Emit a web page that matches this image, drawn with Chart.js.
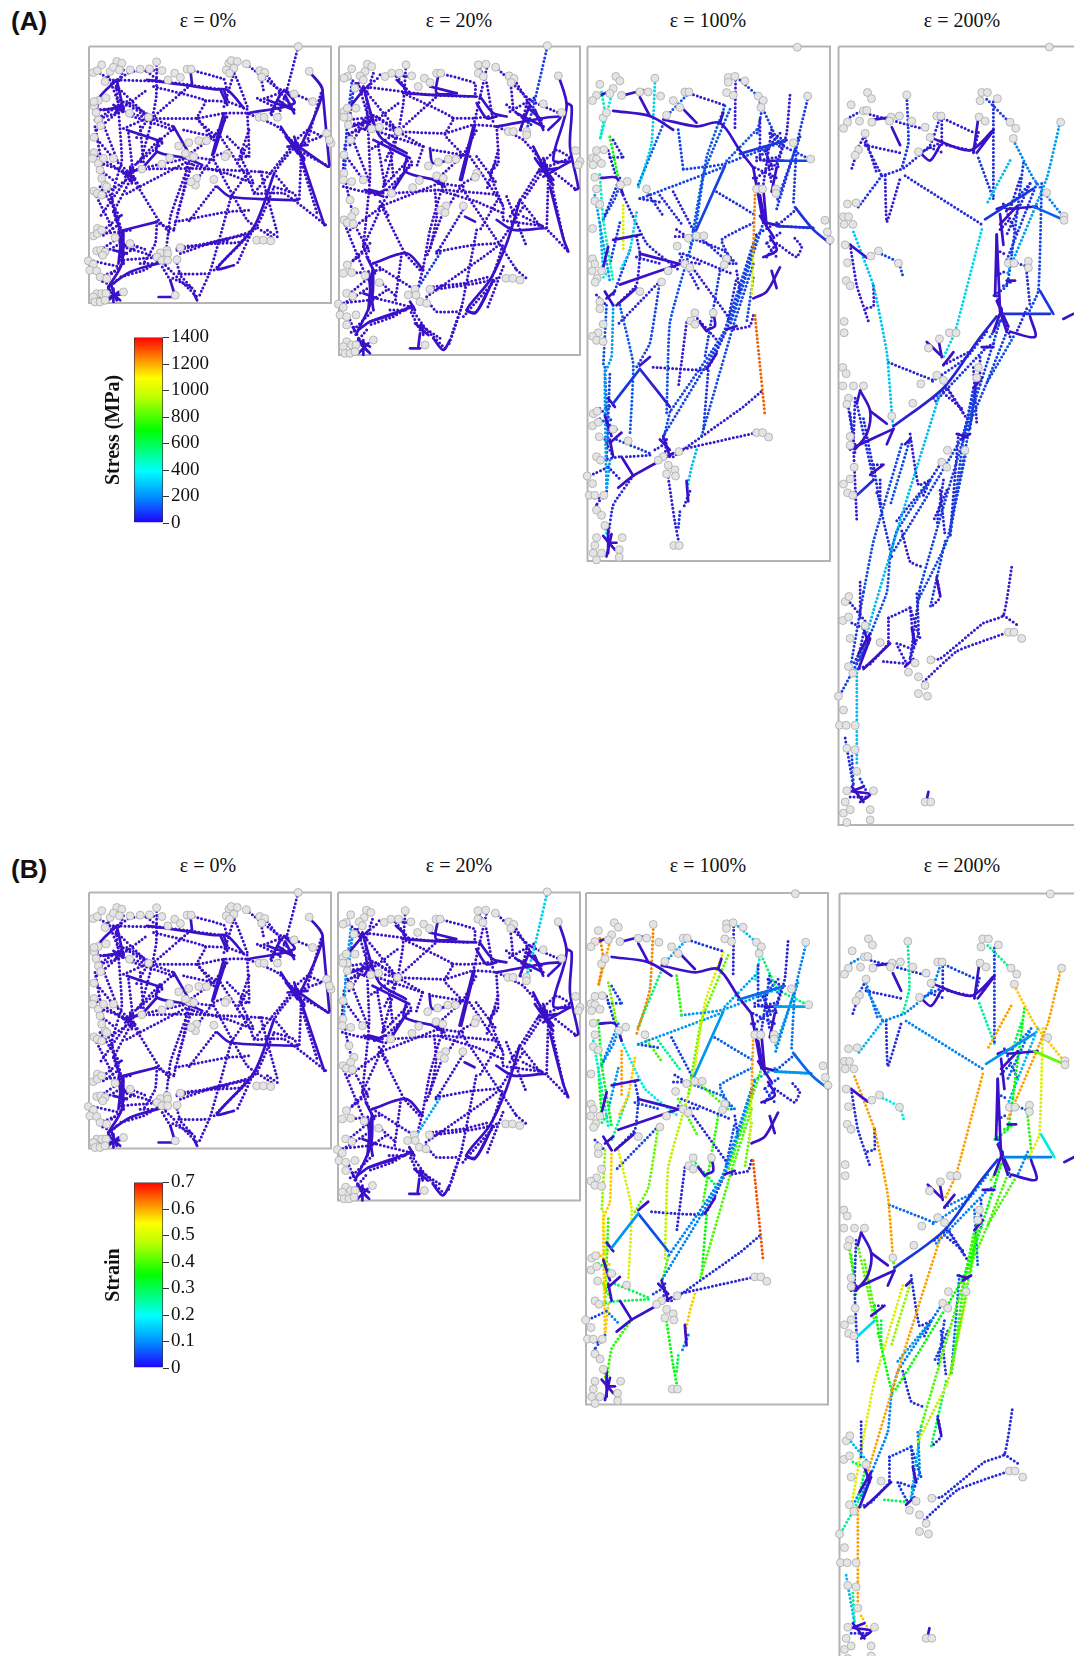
<!DOCTYPE html>
<html>
<head>
<meta charset="utf-8">
<title>Fibre network under strain</title>
<script src="https://cdn.jsdelivr.net/npm/chart.js@4"></script>
<style>
  html, body { margin: 0; padding: 0; background: #fff; }
  body { position: relative; width: 1074px; height: 1656px; overflow: hidden; }
  canvas { position: absolute; }
  .tag { position: absolute; font: bold 26px "Liberation Sans", sans-serif; color: #111; }
  .eps { position: absolute; width: 120px; text-align: center; font: 20px "Liberation Serif", serif; color: #111; }
</style>
</head>
<body>
<script>
// strain steps and colour bar ticks
const strainLevels = ['ε = 0%', 'ε = 20%', 'ε = 100%', 'ε = 200%'];
const stressTicks = [0, 200, 400, 600, 800, 1000, 1200, 1400];
const strainTicks = [0, 0.1, 0.2, 0.3, 0.4, 0.5, 0.6, 0.7];

const fibres1 = [
  [652,50,618,180,592,262],[330,120,430,148,438,175],[100,150,250,155,420,178],[100,160,205,262],
  [120,210,205,262,280,290],[229,96,228,200,215,270,180,400],[330,165,218,262],[220,170,375,212,350,265,410,322],
  [375,212,440,215,500,238],[205,265,350,265,430,250,500,250,590,290,640,340],[60,265,130,245,205,265],[60,240,140,235],
  [45,290,65,400,75,470],[50,300,120,240],[110,180,125,390,95,500,130,620],[45,320,100,385,150,430],
  [145,310,160,440],[180,290,190,400],[65,270,115,400],[150,420,240,325],[50,395,150,430],[42,372,120,420],
  [60,420,100,450],[155,440,235,570,270,610],[160,420,320,385],[185,417,330,415,540,425,580,430],[140,490,330,390],
  [330,390,290,500,270,560,255,680],[320,400,310,480,280,600],[340,380,290,555],[300,650,400,640,480,635,520,590],
  [290,660,520,600,580,470],[285,575,440,545,505,540],[230,575,225,640,190,700],[290,655,450,630],[300,670,400,635,490,615],
  [345,455,400,380,440,365],[405,470,320,580],[450,505,390,720,355,800],[400,390,500,570,580,625],
  [420,320,510,460,520,490,610,490,735,585],[500,250,505,380,480,380,520,460],[480,380,500,345],[640,340,520,490],
  [660,400,655,510],[660,390,710,555],[650,360,745,410],[580,430,630,490],[540,425,590,610],[445,100,470,150,500,230],
  [470,95,430,230],[497,102,590,175,640,192,695,215],[537,122,550,190],[552,128,640,240],[540,210,620,180],[530,205,600,240],
  [595,200,570,260],[720,190,680,330],[350,265,400,330],[150,430,60,560],[70,600,130,550],[70,615,120,580],
  [130,650,230,680],[150,640,200,660],[120,690,240,680],[30,690,120,710],[60,740,110,720],[290,700,300,730,390,730],
  [240,690,350,800],[295,730,350,790],[90,495,120,610],[100,545,125,610],[280,600,225,575],
  [85,140,120,230],[130,120,105,180],[60,130,105,160],[105,155,150,125],[150,125,240,120],[200,125,240,155],
  [95,240,45,270],[120,235,45,240],[120,240,200,180],[140,215,205,255],[205,262,120,300],[205,262,165,330],[145,255,280,300],
  [280,295,240,330],[245,340,170,400],[310,300,400,320],[400,320,330,370],[400,320,440,260],[150,430,180,470],[155,440,60,500],
  [60,470,120,560],[45,490,100,600],[100,545,150,450],[330,380,400,390],[340,405,440,430],[440,430,520,460],[505,300,470,400],
  [440,320,500,380],[500,430,450,500],[580,470,640,490,650,510],[635,340,680,300,725,320],[640,350,720,320],[650,340,600,400,580,430],
  [120,620,60,660],[120,640,50,680],[120,680,170,650],[150,600,70,610],[130,700,60,760],[110,750,60,800],[90,780,70,740],
  [240,690,190,720,120,740],[180,700,235,700],[270,750,240,700],[330,770,270,740],[520,590,470,700],[500,620,400,720],[560,600,590,620]
];
const dense1 = [
  [110,150,60,200,50,240],[70,240,130,230],[110,150,130,240],[230,575,130,600],[130,600,125,700,85,770],
  [85,770,150,725,250,695],[140,300,245,335],[235,330,230,365,320,385,365,405],[230,365,190,410],[280,290,320,360],
  [330,120,335,165],[200,150,240,155,400,178,440,180,490,235],[420,180,440,225],[430,250,395,375],[435,260,400,370],
  [500,250,640,220,610,180],[600,290,650,370],[640,340,740,410],[685,124,725,185,655,360],[725,185,745,405],
  [660,375,730,585],[580,430,520,590,410,715,460,705],[410,470,450,500,650,510],[235,800,285,800],[270,750,285,800],
  [95,770,110,810],[85,800,130,790],[630,330,670,385],[620,350,680,345],[590,210,635,240],[110,620,140,650],
  [130,430,170,420],[150,410,155,460],[340,790,350,810],
  [560,210,640,240],[600,190,570,250],[615,200,640,250],[615,320,670,390],[640,320,660,380],[100,225,130,245],[105,250,125,220],
  [115,610,130,700],[125,610,115,700],[100,660,140,670],[85,780,120,810],[85,810,115,785],[100,775,100,815],[125,425,165,445],
  [135,440,165,420],[310,375,345,395],[430,180,440,210],[240,680,255,700]
];
const nodes1 = [
  652,50,685,124,40,128,52,122,65,105,90,125,110,95,125,100,100,112,118,120,75,155,150,120,180,118,208,117,229,96,245,122,
  283,130,300,143,320,118,332,118,263,150,445,100,452,92,470,95,497,102,437,120,460,115,447,130,537,122,552,128,543,142,
  640,192,695,215,737,310,750,340,745,330,42,228,55,212,42,215,78,204,48,248,55,270,62,287,148,250,205,262,535,262,550,262,
  590,262,355,332,378,332,42,322,295,348,325,338,42,368,38,385,55,400,70,385,100,385,327,378,340,380,315,370,268,384,
  245,402,440,372,434,380,185,417,60,420,65,445,75,465,42,483,52,490,65,495,80,470,348,445,345,465,332,455,400,448,
  52,595,40,617,52,610,65,600,105,622,150,640,528,630,548,630,570,632,300,652,260,660,240,668,230,680,262,670,245,690,
  262,690,290,688,50,662,62,660,75,665,68,675,25,692,40,702,30,720,50,722,60,740,80,745,130,785,50,790,40,800,65,790,
  78,790,45,815,60,815,75,810,285,795
];

const fibres2 = [
  [652,50,610,230,590,300],[65,160,50,300,45,420],[70,180,60,260],[330,670,260,780],
  [330,130,435,160,435,200],[100,170,300,195,420,200],[100,175,205,305],[120,250,205,305,280,350],
  [228,106,220,220,205,305,160,470],[325,195,210,300],[220,190,370,265,345,315,400,375],[370,265,430,265,520,255],
  [205,305,345,310,430,285,500,290,580,330,640,400],[55,310,130,290,205,305],[60,270,130,260],[45,345,40,420,70,560],
  [60,345,110,270],[110,210,120,440,100,650],[45,375,100,450],[145,350,165,470],[180,345,190,440],[65,320,120,460],
  [160,470,240,385],[40,470,120,490],[150,530,245,395],[155,530,225,670,270,720],[150,530,340,455],[185,490,340,480,510,495],
  [340,460,300,600,280,710,260,790],[315,480,320,560,300,660],[345,530,290,680],[300,780,480,750,520,640],
  [290,800,500,650,580,530],[320,665,430,645,500,640],[215,670,195,820],[310,770,400,760,480,740],[345,545,400,460,440,440],
  [405,530,320,670],[440,600,395,830,365,920],[400,480,520,660,560,720],[420,380,520,530,520,570,640,590,715,665],
  [500,290,505,400,480,430,520,530],[480,430,500,390],[640,400,540,560],[655,440,650,600],[660,440,700,625],[650,410,740,480],
  [570,510,640,600],[530,500,590,650],[445,105,470,160,490,280],[470,115,430,290],[497,110,600,210,690,250],[540,140,550,240],
  [560,160,640,290],[540,245,620,200],[530,225,610,290],[590,220,570,310],[130,700,240,770],[150,755,200,800],[120,800,240,830],
  [30,820,120,810],[60,870,80,920],[290,810,320,845,390,845],[240,830,290,900,350,960],[395,830,370,900,355,950],
  [60,700,120,650],[70,690,120,640],[100,650,130,720],
  [85,160,120,280],[130,130,105,205],[60,145,105,185],[105,175,150,140],[150,135,245,140],[200,140,240,190],
  [95,285,45,325],[120,275,45,285],[120,285,205,220],[140,260,205,300],[205,305,120,360],[205,305,165,395],[145,305,280,350],
  [280,350,260,410],[245,405,170,480],[310,360,400,375],[400,375,330,440],[400,375,440,300],[150,515,180,565],[155,530,60,600],
  [60,560,120,670],[45,585,100,720],[100,650,150,540],[330,460,400,470],[340,485,440,515],[440,515,520,550],[505,360,470,480],
  [440,380,500,460],[500,515,450,600],[580,560,640,590],[635,400,680,360,725,385],[640,415,720,385],[650,405,600,480,580,510],
  [120,740,60,790],[120,770,50,815],[120,815,170,780],[150,720,70,730],[130,840,60,910],[110,900,60,960],[90,935,70,890],
  [240,830,190,860,120,885],[180,840,235,840],[270,900,240,840],[330,925,270,885],[520,710,470,840],[500,745,400,860],[560,720,590,745]
];
const dense2 = [
  [105,175,60,230],[65,290,130,270],[105,190,150,320,230,370],[130,330,240,385],[230,385,225,425,340,455],[225,425,190,480],
  [130,700,230,670,280,720],[130,720,125,810,80,910],[85,900,120,875,250,830],[120,875,200,850],[325,135,320,190,380,190],
  [300,170,380,190],[200,150,225,175,230,190,440,200],[450,200,490,250,530,260],[440,220,470,265,500,260],[430,290,390,450],
  [435,285,395,450],[500,290,690,260,655,300],[610,350,655,440],[685,135,710,230,670,390,720,395],[710,220,725,230,720,350,745,475,735,480],
  [660,470,700,625,715,665],[640,440,720,395],[570,510,530,640,480,750,410,840,440,845,490,750],[410,840,435,850,470,790],
  [300,355,310,400,400,375],[405,560,435,575],[500,570,550,600,640,595],[240,955,270,955],[270,910,265,950],[310,925,340,960,360,930],
  [630,400,670,450],[625,425,680,415],[590,230,635,270],[110,680,135,730],[120,480,160,490],[95,945,115,965],[85,930,120,950],
  [560,250,640,290],[600,225,570,300],[615,240,640,300],[615,385,670,465],[640,385,660,455],[100,270,130,295],[105,300,125,265],
  [115,730,130,840],[125,730,115,840],[100,790,140,805],[85,935,120,970],[85,970,115,940],[100,930,100,975],[105,480,160,500],
  [135,495,165,480],[310,450,345,470],[240,815,255,840],[255,880,295,915],[275,885,280,915]
];
const nodes2 = [
  652,48,685,138,112,103,125,110,65,117,105,125,90,138,52,140,42,145,75,175,100,150,185,130,165,140,208,130,228,105,245,138,
  283,145,300,158,320,130,332,130,265,170,445,105,468,103,497,112,445,130,460,140,537,138,552,146,543,158,640,222,695,248,
  78,235,42,245,52,235,55,262,42,262,148,292,125,297,205,305,55,285,62,330,42,375,535,305,550,305,590,305,590,315,737,362,
  750,395,745,405,355,388,378,388,295,408,325,397,42,430,40,450,65,455,100,450,320,438,340,445,268,452,248,473,440,430,
  436,442,185,490,60,510,75,545,65,560,42,570,52,578,70,582,348,528,332,540,345,548,400,528,52,705,40,730,65,728,105,737,
  148,758,528,745,548,745,570,750,300,778,255,778,235,795,258,795,270,815,290,820,50,790,68,798,25,822,40,832,30,855,50,860,
  78,855,50,885,130,930,50,935,40,950,65,945,78,945,45,970,60,970,75,965,285,945
];

const fibres3 = [
  [480,145,550,205],[467,135,465,290],[630,190,620,300,590,400],[685,192,650,330,590,520],[225,155,215,330,175,460],
  [330,185,440,220],[320,190,260,250],[260,250,175,450],[295,290,310,405],[310,405,430,390,620,320],
  [435,220,380,370,345,590],[450,230,370,420,330,640],[540,210,600,330,690,375],[530,290,440,380],[180,490,440,395],
  [65,180,75,240,60,320],[95,190,60,320],[90,310,115,430],[130,510,130,640],[170,530,150,640,120,700],
  [60,420,70,550,100,730],[100,800,95,950,75,1000,80,1340],[120,800,160,970,150,1180],[120,460,200,620,300,700],[240,480,310,570],
  [280,470,345,590],[525,480,520,640],[520,640,515,770],[525,830,555,1120],[345,590,270,850,260,1120],
  [240,730,210,910,170,980],[300,650,360,760],[310,650,460,710],[520,560,425,610,460,680],[550,560,450,860],
  [520,620,430,880,270,1110],[530,600,440,870,250,1180],[520,680,460,860,365,1180],[420,700,375,950],[370,610,450,680],
  [240,730,110,860],[650,330,640,510],[600,570,690,575],[650,520,590,570],[575,290,550,450],
  [320,850,295,1040],[220,980,380,985,440,870],[270,1110,250,1190],[110,1190,210,1230],[280,1240,490,1095,550,1045],
  [300,1220,530,1170],[350,1220,335,1270,320,1340],[265,1300,285,1430,295,1480],[160,1295,100,1380,85,1470],[345,700,450,840],
  [345,830,410,900],[520,830,510,860,460,870],[590,620,650,660,665,630,640,600],[560,620,590,660],[290,580,320,600,280,600],
  [300,670,365,680],[180,490,240,500],[70,550,105,490,120,450],[30,1295,85,1270],[90,1250,80,1340],
  [170,600,180,650,170,740,110,800],[540,260,540,370],[570,300,610,320,590,390],[530,380,590,370],[550,340,580,410],
  [530,370,600,400],[560,350,575,450],[600,300,540,370],[525,400,590,430],[530,430,580,390],
  [570,300,600,340],[520,430,560,470],[550,210,530,310],[660,310,590,500],[410,470,530,540],
  [200,470,250,540],[150,640,100,770],[120,560,90,680],[45,480,90,730],[60,560,70,700],
  [120,430,70,550],[100,320,130,370],[90,370,130,370],[85,350,110,430],[80,800,70,980],
  [75,980,85,1200],[90,1000,80,1250],[50,770,80,800],[85,700,70,720],[100,1090,70,1100],
  [60,1100,100,1140],[60,1130,110,1160],[75,1190,100,1240],[60,1250,120,1240],[140,1240,215,1235],
  [85,1270,125,1310],[80,1340,50,1380],[50,1380,70,1420],[45,1360,80,1360],[75,1440,85,1480],
  [260,1190,255,1240],[225,1220,260,1200],[330,1340,310,1390],[300,1400,295,1450],[600,590,560,620],
  [590,560,520,600],[560,660,590,620],[520,720,500,850],[445,840,470,720],[470,700,480,760],
  [350,610,430,640,470,680],[385,990,370,1170],[170,660,245,680]
];
const stress3 = [
  90,20,20,80,350, 30,130,130,100,100,
  130,130,90,130,100, 450,400,700,1000,350,
  450,250,130,50,60, 40,1200,1000,1250,120,
  100,60,30,60,110, 100,100,110,90,40,
  40,90,80,30,30, 20,15,110,90,30,
  20,300,30,60,20, 20,20,20,30,20,
  20,40,100,30,250, 30,30,20,30,30,
  20,20,30,20,20, 50,30,90,70,60,
  60,90,90,250,300, 70,40,30,30,120,
  150,100,20,400,60, 60,80,70,60,40,
  40,30,20,30,300, 30,30,30,70,30,
  60,30,110,50,25, 60,70,40
];
const strain3 = [
  0.15,0.02,0.02,0.1,0.6, 0.04,0.13,0.28,0.38,0.12,
  0.5,0.42,0.27,0.13,0.12, 0.6,0.58,0.42,0.58,0.55,
  0.33,0.55,0.5,0.2,0.25, 0.05,0.58,0.5,0.64,0.48,
  0.42,0.4,0.03,0.08,0.38, 0.1,0.1,0.4,0.38,0.4,
  0.05,0.09,0.12,0.05,0.03, 0.02,0.02,0.4,0.3,0.03,
  0.02,0.55,0.35,0.38,0.02, 0.3,0.02,0.02,0.03,0.03,
  0.03,0.05,0.1,0.05,0.55, 0.04,0.03,0.02,0.03,0.03,
  0.03,0.03,0.06,0.03,0.03, 0.1,0.04,0.2,0.13,0.07,
  0.4,0.25,0.12,0.22,0.35, 0.1,0.05,0.04,0.04,0.45,
  0.5,0.38,0.03,0.3,0.5, 0.55,0.3,0.4,0.28,0.3,
  0.1,0.06,0.03,0.05,0.4, 0.04,0.05,0.1,0.3,0.05,
  0.12,0.04,0.42,0.06,0.03, 0.08,0.35,0.06
];
const dense3 = [
  [435,395,345,590],[180,985,100,1085],[480,360,620,320],[590,380,690,380],[645,515,700,580,750,620],
  [590,570,700,575],[180,985,270,1095],[130,190,190,175],[60,190,100,175],[180,195,210,250],
  [100,235,210,250,280,290],[250,260,350,280,420,270,480,350,520,400],[310,230,350,270],[420,270,430,240],[520,400,550,560],
  [300,680,180,650],[120,740,300,680],[65,430,110,430,130,480],[100,610,180,595],[70,690,85,630],
  [110,800,170,750],[590,400,575,470],[600,690,560,760,520,780],[575,700,590,750],[400,820,405,860,385,870],
  [360,850,380,875],[115,1330,160,1295],[125,1240,160,1295],[160,1295,280,1230],[90,1200,125,1170],
  [85,1440,85,1520],[85,1490,110,1490],[70,1470,105,1510],[95,1465,80,1530],[320,1310,325,1370],
  [560,380,610,380],[550,460,560,570],[570,600,590,640,550,660],[250,1180,270,1240],[80,780,105,760],
  [410,940,380,985],[180,975,210,950],[440,870,470,860],
  [540,480,555,560],[560,560,600,570],[540,540,580,600],[75,760,100,800],[85,1070,105,1095],[75,1120,95,1180],[90,1190,100,1240],[240,1190,270,1220]
];
const denseStress3 = [100, 80, 80, 100, 70, 70, 30];
const denseStrain3 = [0.12, 0.12, 0.08, 0.13, 0.08, 0.12, 0.06];
const nodes3 = [
  652,50,683,192,108,135,120,148,60,158,100,170,90,185,50,190,38,205,125,190,180,180,205,180,225,140,242,192,280,205,315,180,
  327,180,300,225,260,248,445,138,465,135,495,148,445,152,440,182,460,190,535,192,550,205,543,225,70,255,80,240,640,328,692,375,
  50,350,72,348,38,372,50,375,40,392,65,388,142,440,122,450,200,462,45,428,50,462,45,497,60,507,530,462,548,462,588,462,588,475,
  735,553,742,587,750,610,38,577,350,598,372,598,325,605,292,628,38,665,45,680,37,700,65,700,52,722,46,733,315,680,330,690,
  265,700,245,732,440,665,433,682,180,760,60,790,60,810,70,855,55,880,38,890,50,902,70,905,345,822,332,845,400,822,345,855,
  40,1115,52,1108,38,1150,55,1140,100,1160,58,1182,145,1194,530,1170,548,1170,566,1183,297,1225,250,1240,235,1250,265,1265,
  285,1278,260,1290,287,1296,50,1240,62,1250,22,1296,38,1318,28,1352,45,1352,72,1352,50,1395,65,1410,75,1440,50,1475,127,1475,
  45,1498,40,1520,65,1520,118,1510,118,1532,50,1540,282,1498,298,1498
];

const fibres4 = [
  [470,135,545,185],[230,130,235,220,215,270],[330,170,430,200],[335,170,335,225],[120,165,290,195],
  [155,285,220,270,300,225,330,170],[155,285,80,350],[105,220,155,285],[165,285,170,375,210,290],[225,285,455,380],
  [455,390,375,590,340,640],[330,710,205,970,110,1180],[540,255,470,340],[690,180,650,290,530,480],[490,140,490,330],
  [445,250,490,330],[550,215,610,290,700,365],[635,300,625,510,590,560],[70,395,130,500,170,630,185,750],[175,650,310,685],
  [60,420,80,500,115,570],[130,500,130,540,100,545],[145,435,205,455,220,485],[340,655,415,630],[590,475,600,540],
  [540,450,600,465],[470,620,310,730],[510,570,400,790,190,1020],[530,590,470,690,400,800,270,1090],[440,700,360,980],
  [430,700,400,800,360,990],[410,820,350,1000,260,1120],[300,880,200,980,180,1030,170,1100,90,1230],[130,850,150,930,185,1030],[215,810,130,1000,100,1100],
  [240,800,180,930],[240,790,265,890,300,880],[215,980,240,1040,275,1050],[270,1090,240,1230],[320,1070,330,1110,300,1130],
  [345,1000,300,1130],[75,720,70,810,80,960],[60,1120,110,1160],[90,1080,90,1150],[30,1300,120,1190],
  [175,1150,175,1200],[175,1150,240,1130],[240,1130,250,1210,200,1200,230,1240],[160,1235,240,1240],[300,1230,330,1230,460,1160,520,1145,545,1050],
  [280,1275,380,1215,525,1180],[520,1145,565,1165],[80,1250,80,1440],[65,1420,70,1480],[45,1385,70,1480],
  [90,1465,110,1490],[105,225,210,240],[65,270,80,240],[60,170,100,155],[545,340,600,300],
  [580,260,545,440],[470,590,410,640,300,690],[385,790,360,990],[310,720,350,700,410,760],[100,760,130,860],
  [60,750,75,830],[185,750,190,780],[550,600,470,690],
  [600,300,530,400],[620,300,530,450],[570,290,540,350],[520,340,560,400],[510,390,540,370],
  [500,430,530,440],[500,480,530,470],[520,500,550,490],[500,520,540,600],[480,600,520,560],
  [545,440,530,500,490,520],[470,620,500,610],[450,640,450,700],[430,660,440,770],[440,680,420,780],
  [400,790,440,690],[340,690,400,750],[340,710,395,740],[80,730,130,880],[130,850,160,850],
  [150,880,150,930],[60,820,70,810],[55,740,70,800],[175,1200,120,1240,80,1250],[100,1100,60,1250],
  [100,1180,80,1240],[110,1190,70,1240],[240,1230,265,1180,260,1100],[240,1130,270,1190],[65,1160,100,1170],
  [60,1500,110,1500],[300,880,330,850],[340,880,320,970],[350,900,310,960],[330,900,345,990],
  [280,910,300,880],[200,960,300,880],[140,905,155,930],[75,240,100,210],[105,210,140,280],
  [270,240,330,220],[300,230,340,240],[350,225,420,235],[445,200,430,240],[490,195,460,220],[590,545,560,590]
];
const stress4 = [
  90,80,30,20,30, 50,70,40,20,60,
  350,300,300,250,60, 80,200,100,320,40,
  20,20,100,40,70, 30,80,100,100,100,
  90,110,120,60,110, 110,20,20,50,20,
  90,30,40,20,100, 20,30,25,30,20,
  30,20,300,100,50, 80,20,20,50,80,
  90,80,40,20,60, 60,300,120,
  60,90,40,30,30, 30,30,70,40,100,
  90,60,30,30,60, 70,20,20,70,20,
  30,20,40,30,90, 60,60,50,25,40,
  20,60,40,40,30, 30,60,60,20,30,
  30,20,20,30,20,50
];
const strain4 = [
  0.25,0.25,0.05,0.03,0.04, 0.1,0.14,0.1,0.03,0.1,
  0.58,0.58,0.58,0.58,0.05, 0.25,0.55,0.5,0.58,0.08,
  0.03,0.03,0.2,0.1,0.38, 0.05,0.1,0.35,0.4,0.4,
  0.38,0.48,0.1,0.35,0.5, 0.45,0.03,0.03,0.15,0.03,
  0.3,0.04,0.15,0.03,0.25, 0.03,0.05,0.04,0.3,0.03,
  0.03,0.03,0.58,0.25,0.15, 0.55,0.03,0.03,0.1,0.1,
  0.35,0.1,0.08,0.03,0.4, 0.38,0.4,0.4,
  0.08,0.15,0.3,0.05,0.05, 0.05,0.05,0.35,0.06,0.4,
  0.3,0.1,0.04,0.08,0.4, 0.38,0.03,0.03,0.42,0.03,
  0.3,0.03,0.4,0.06,0.5, 0.3,0.1,0.1,0.04,0.3,
  0.03,0.08,0.05,0.05,0.04, 0.05,0.12,0.4,0.03,0.08,
  0.05,0.03,0.03,0.05,0.03,0.1
];
const dense4 = [
  [610,345,690,368],[80,910,130,880],[465,370,610,310],[520,555,660,555],[630,510,670,555],
  [190,775,340,700,440,610,500,560],[130,175,185,170],[185,190,210,225],[270,240,300,255,330,225],[300,210,420,235,490,195,440,240],
  [430,240,445,170],[500,400,510,550],[700,565,730,555],[600,560,615,600,540,590],[530,350,620,345],
  [510,380,560,345],[500,400,495,520],[90,705,120,745,110,790,75,820],[120,745,170,770],[80,730,90,705],
  [190,780,75,815],[60,420,110,445],[120,870,160,850],[170,810,190,780],[70,1490,120,1495,90,1510],
  [65,1480,100,1510],[100,1250,180,1200],[85,1220,120,1180],[290,610,330,635],[325,605,335,640],
  [340,655,370,630],[510,550,530,590],[530,490,555,490],[320,1075,330,1105],[245,1170,255,1200],
  [295,1490,290,1505],[510,360,520,420],[380,790,410,795],[240,800,225,810],[430,700,455,680],[455,620,490,620],
  [500,530,535,580],[515,545,490,590],[500,350,540,340],[420,790,395,800],[75,810,60,820],[100,1170,115,1200],[85,1250,120,1190],[250,1230,225,1245],[60,1490,100,1480]
];
const denseStress4 = [150, 60, 80, 70, 80, 40];
const denseStrain4 = [0.42, 0.18, 0.12, 0.1, 0.2, 0.04];
const nodes4 = [
  658,33,230,127,112,122,124,134,63,146,100,158,110,157,52,180,40,192,88,178,125,180,183,170,208,168,178,178,245,178,285,190,
  320,168,333,168,300,210,265,238,455,122,472,122,502,134,450,138,447,170,465,178,540,180,557,192,550,212,105,202,85,234,75,245,
  650,318,692,180,702,364,702,372,52,340,78,338,40,365,55,365,42,380,68,380,145,432,122,442,205,456,45,420,52,455,48,490,60,500,
  535,456,552,456,595,452,595,465,42,570,42,592,358,592,378,592,328,604,295,622,38,660,48,672,38,696,70,696,100,696,55,720,50,732,
  320,675,340,685,272,692,248,730,445,660,440,680,185,755,60,795,60,812,72,855,60,878,40,888,52,905,68,910,352,822,335,845,405,822,
  350,855,45,1118,56,1108,38,1155,55,1148,105,1165,60,1190,150,1198,535,1178,552,1178,575,1190,302,1232,255,1238,235,1256,265,1265,
  285,1282,265,1298,292,1303,55,1245,68,1258,25,1303,40,1330,28,1360,48,1360,75,1360,50,1405,75,1408,80,1450,50,1488,130,1488,
  45,1510,40,1532,60,1525,120,1525,120,1545,50,1550,285,1510,302,1510
];

// only the first few fibres of the early steps are off the base colour, the rest read as zero
const stress1 = [];
const strain1 = [];
const stress2 = [90, 80, 80, 80];
const strain2 = [0.17, 0.12, 0.1, 0.13];

// colour ramps, low end of the fibre ramp is the purple-blue seen in the picture
const fibreRamp = [[0, [58,16,200]], [0.06, [24,56,224]], [0.14, [0,128,240]], [0.28, [0,235,235]], [0.5, [0,255,0]], [0.72, [224,240,0]], [0.79, [255,200,0]], [0.9, [240,90,0]], [1, [255,16,0]]];
const barRamp = ['#2000ff', '#0090ff', '#00ffff', '#00ff70', '#00ff00', '#c0ff00', '#ffff00', '#ff9000', '#ff0000'];
const barStops = [0, 0.14, 0.28, 0.4, 0.5, 0.68, 0.78, 0.88, 1];

function rampColor(t) {
    for (let i = 1; i < fibreRamp.length; i++) {
        if (t <= fibreRamp[i][0]) {
            const a = fibreRamp[i - 1], b = fibreRamp[i];
            const k = (t - a[0]) / (b[0] - a[0]);
            const c = a[1].map((v, j) => Math.round(v + (b[1][j] - v) * k));
            return `rgb(${c[0]},${c[1]},${c[2]})`;
        }
    }
    return 'rgb(255,16,0)';
}

function toPoints(flat) {
    const pts = [];
    for (let i = 0; i < flat.length; i += 2) pts.push({ x: flat[i], y: flat[i + 1] });
    return pts;
}

function makeCanvas(left, top, width, height) {
    const c = document.createElement('canvas');
    c.width = width;
    c.height = height;
    c.style.left = left + 'px';
    c.style.top = top + 'px';
    c.style.width = width + 'px';
    c.style.height = height + 'px';
    document.body.appendChild(c);
    return c;
}

// p: reference box of the frame, z: the same frame in fibre coordinates
function drawPanel(p) {
    const sx = (p.box[1] - p.box[0]) / (p.z[1] - p.z[0]);
    const sy = (p.box[3] - p.box[2]) / (p.z[3] - p.z[2]);
    const m = 14;
    const left = Math.round(p.box[0] - m);
    const top = Math.round(p.box[2] - m);
    const right = Math.min(1074, Math.round(p.box[1] + m));
    const bottom = Math.min(1656, Math.round(p.box[3] + m));
    const ctx = makeCanvas(left, top, right - left, bottom - top);

    const datasets = [];
    datasets.push({
        data: toPoints([p.z[0], p.z[2], p.z[1], p.z[2], p.z[1], p.z[3], p.z[0], p.z[3], p.z[0], p.z[2]]),
        showLine: true, borderColor: '#b4b4b4', borderWidth: 2, pointRadius: 0, clip: false, order: 5
    });
    p.dotted.forEach((f, i) => {
        datasets.push({
            data: toPoints(f), showLine: true, borderColor: rampColor((p.vals[i] || 0) / p.max), tension: 0.12,
            borderWidth: 3, borderDash: [0, 3.9], borderCapStyle: 'round', pointRadius: 0, clip: false, order: 4
        });
    });
    p.dense.forEach((f, i) => {
        datasets.push({
            data: toPoints(f), showLine: true, borderColor: rampColor((p.denseVals[i] || 0) / p.max), tension: 0.3,
            borderWidth: 2.7, borderCapStyle: 'round', pointRadius: 0, clip: false, order: 3
        });
    });
    datasets.push({
        data: toPoints(p.nodes), showLine: false, pointRadius: 4, pointBackgroundColor: '#e4e4e4',
        pointBorderColor: '#aaaaaa', pointBorderWidth: 0.8, clip: false, order: 1
    });

    new Chart(ctx, {
        type: 'scatter',
        data: { datasets: datasets },
        options: {
            responsive: false,
            animation: false,
            layout: { padding: 0, autoPadding: false },
            plugins: { legend: { display: false }, tooltip: { enabled: false }, title: { display: false } },
            scales: {
                x: { display: false, type: 'linear', min: p.z[0] + (left - p.box[0]) / sx, max: p.z[0] + (right - p.box[0]) / sx },
                y: { display: false, type: 'linear', reverse: true, min: p.z[2] + (top - p.box[2]) / sy, max: p.z[2] + (bottom - p.box[2]) / sy }
            }
        }
    });
}

function drawColorBar(left, top, label, ticks) {
    const ctx = makeCanvas(left, top, 120, 208);
    new Chart(ctx, {
        type: 'bar',
        data: {
            labels: [label],
            datasets: [{
                data: [ticks[ticks.length - 1]],
                yAxisID: 'y',
                barPercentage: 1,
                categoryPercentage: 1,
                borderColor: '#333',
                borderWidth: 1,
                backgroundColor: function (context) {
                    const area = context.chart.chartArea;
                    if (!area) return '#00ffff';
                    const g = context.chart.ctx.createLinearGradient(0, area.bottom, 0, area.top);
                    barStops.forEach((s, i) => g.addColorStop(s, barRamp[i]));
                    return g;
                }
            }]
        },
        options: {
            responsive: false,
            animation: false,
            layout: { padding: { top: 10, bottom: 11 }, autoPadding: false },
            plugins: { legend: { display: false }, tooltip: { enabled: false } },
            scales: {
                x: { display: false },
                y: {
                    position: 'right', min: 0, max: ticks[ticks.length - 1],
                    afterBuildTicks: scale => { scale.ticks = ticks.map(v => ({ value: v })); },
                    afterFit: scale => { scale.width = 59; },
                    grid: { display: false },
                    border: { display: false },
                    ticks: {
                        autoSkip: false, padding: 0, color: '#111', maxRotation: 0,
                        font: { family: 'Liberation Serif', size: 19 },
                        callback: v => String(v)
                    }
                },
                side: {
                    position: 'left', min: 0, max: 1,
                    afterFit: scale => { scale.width = 32; },
                    grid: { display: false }, border: { display: false },
                    ticks: { display: false },
                    title: {
                        display: true, text: label, color: '#111', padding: { top: 0, bottom: 0 },
                        font: { family: 'Liberation Serif', size: 20, weight: 'bold' }
                    }
                }
            }
        },
        plugins: [{
            // tick marks on the right edge of the bar
            afterDraw: chart => {
                const s = chart.scales.y, c = chart.ctx;
                c.save();
                c.strokeStyle = '#333';
                ticks.forEach(v => {
                    const y = Math.round(s.getPixelForValue(v)) + 0.5;
                    c.beginPath();
                    c.moveTo(chart.chartArea.right, y);
                    c.lineTo(chart.chartArea.right + 6, y);
                    c.stroke();
                });
                c.restore();
            }
        }]
    });
}

function addText(cls, text, left, top) {
    const d = document.createElement('div');
    d.className = cls;
    d.textContent = text;
    d.style.left = left + 'px';
    d.style.top = top + 'px';
    document.body.appendChild(d);
}

const zFrame1 = [27, 750, 50, 818];
const zFrame2 = [27, 750, 50, 975];
const zFrame3 = [23, 750, 48, 1543];
const zFrame4 = [25, 750, 32, 1555];

const panels = [
    { box: [89, 331, 46.5, 303], z: zFrame1, dotted: fibres1, dense: dense1, nodes: nodes1, vals: stress1, denseVals: [], max: 1400 },
    { box: [339, 580, 46.5, 355], z: zFrame2, dotted: fibres2, dense: dense2, nodes: nodes2, vals: stress2, denseVals: [], max: 1400 },
    { box: [587.5, 830, 46.5, 561], z: zFrame3, dotted: fibres3, dense: dense3, nodes: nodes3, vals: stress3, denseVals: denseStress3, max: 1400 },
    { box: [838.5, 1080, 46.5, 825], z: zFrame4, dotted: fibres4, dense: dense4, nodes: nodes4, vals: stress4, denseVals: denseStress4, max: 1400 },
    { box: [89, 331, 892.5, 1148.5], z: zFrame1, dotted: fibres1, dense: dense1, nodes: nodes1, vals: strain1, denseVals: [], max: 0.7 },
    { box: [338, 580, 892.5, 1200.5], z: zFrame2, dotted: fibres2, dense: dense2, nodes: nodes2, vals: strain2, denseVals: [], max: 0.7 },
    { box: [586, 828, 893, 1404.5], z: zFrame3, dotted: fibres3, dense: dense3, nodes: nodes3, vals: strain3, denseVals: denseStrain3, max: 0.7 },
    { box: [839.5, 1081, 893.5, 1661], z: zFrame4, dotted: fibres4, dense: dense4, nodes: nodes4, vals: strain4, denseVals: denseStrain4, max: 0.7 }
];

document.addEventListener('DOMContentLoaded', function () {
    panels.forEach(drawPanel);

    drawColorBar(102, 326, 'Stress (MPa)', stressTicks);
    drawColorBar(102, 1171, 'Strain', strainTicks);

    const titleX = [148, 399, 648, 902];
    [9, 854].forEach(y => {
        strainLevels.forEach((s, i) => addText('eps', s, titleX[i], y));
    });
    addText('tag', '(A)', 11, 6);
    addText('tag', '(B)', 11, 854);
});
</script>
</body>
</html>
